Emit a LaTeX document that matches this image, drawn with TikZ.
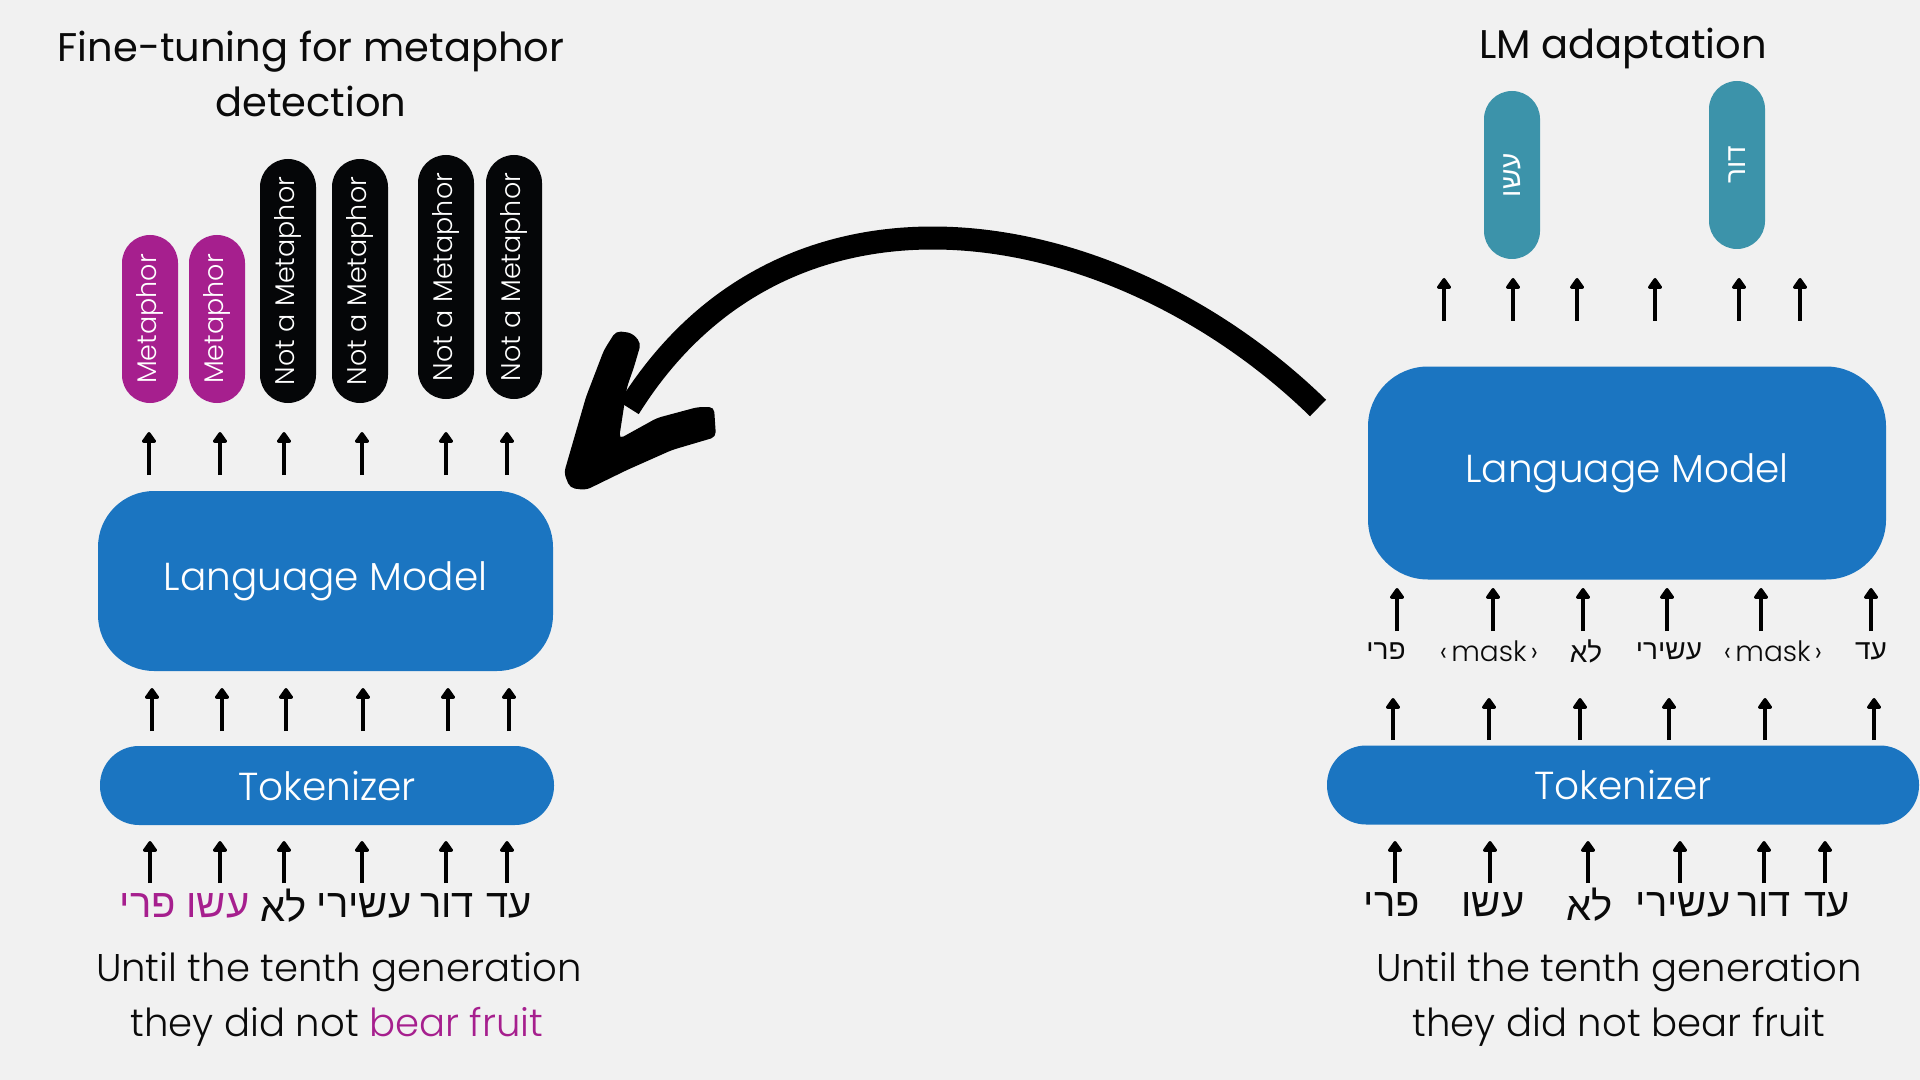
\documentclass[tikz,border=0pt]{standalone}
\usepackage{fontspec}
\setmainfont{Poppins}[UprightFont={* Light}]
\newfontfamily\popreg{Poppins}
\newfontfamily\heb[Script=Hebrew]{Liberation Sans}
\TeXXeTstate=1
\usetikzlibrary{arrows.meta}
\definecolor{bg}{RGB}{241,241,241}
\definecolor{lmblue}{RGB}{27,117,193}
\definecolor{mag}{RGB}{166,31,142}
\definecolor{tealpill}{RGB}{60,147,170}
\definecolor{pillblack}{RGB}{5,6,8}
\definecolor{ink}{RGB}{10,10,10}
\tikzset{
  bigtext/.style={font=\fontsize{19.3pt}{27.5pt}\selectfont, text=ink, inner sep=0pt, align=center},
  titletext/.style={font=\popreg\fontsize{20pt}{27.5pt}\selectfont, text=ink, inner sep=0pt, align=center},
  lmbox/.style={fill=lmblue, rounded corners=28pt, text=white, font=\fontsize{19.5pt}{24pt}\selectfont, inner sep=0pt},
  tokbox/.style={fill=lmblue, rounded corners=19.5pt, text=white, font=\fontsize{19.5pt}{24pt}\selectfont, inner sep=0pt, minimum height=39.5pt},
  pill/.style={rounded corners=14pt, minimum height=28pt, text=white, font=\fontsize{13.5pt}{16pt}\selectfont, inner sep=0pt, rotate=90},
  uparr/.style={line width=2pt, draw=black, -{Triangle[width=8pt,length=6pt,round]}},
  hebw/.style={font=\heb\fontsize{20pt}{24pt}\selectfont, text=ink, inner sep=0pt},
  tokw/.style={font=\fontsize{14pt}{16pt}\selectfont, text=ink, inner sep=0pt},
  hebtok/.style={font=\heb\fontsize{14pt}{16pt}\selectfont, text=ink, inner sep=0pt},
}
\begin{document}
\begin{tikzpicture}[x=0.5pt, y=-0.5pt]
\useasboundingbox (0,0) rectangle (1920,1080);
\fill[bg] (0,0) rectangle (1920,1080);

% ---------------- titles
\node[titletext] (ltitle) at (311,74) {Fine-tuning for metaphor\\detection};
\node[titletext] (rtitle) at (1623,48) {LM adaptation};

% ---------------- left side
\node[pill, fill=mag, minimum width=84pt] (p1) at (150,319) {Metaphor};
\node[pill, fill=mag, minimum width=84pt] (p2) at (217,319) {Metaphor};
\node[pill, fill=pillblack, minimum width=122pt] (p3) at (288,281) {Not a Metaphor};
\node[pill, fill=pillblack, minimum width=122pt] (p4) at (360,281) {Not a Metaphor};
\node[pill, fill=pillblack, minimum width=122pt] (p5) at (446,277) {Not a Metaphor};
\node[pill, fill=pillblack, minimum width=122pt] (p6) at (514,277) {Not a Metaphor};

\node[lmbox, minimum width=227.5pt, minimum height=90pt] (lmL) at (325.5,581) {Language Model};
\node[tokbox, minimum width=227pt] (tokL) at (327,785.5) {Tokenizer};

\node[hebw, text=mag] (lw1) at (148,906) {\beginR פרי\endR};
\node[hebw, text=mag] (lw2) at (218,906) {\beginR עשו\endR};
\node[hebw] (lw3) at (284,906) {\beginR לא\endR};
\node[hebw] (lw4) at (364,906) {\beginR עשירי\endR};
\node[hebw] (lw5) at (447,906) {\beginR דור\endR};
\node[hebw] (lw6) at (509,906) {\beginR עד\endR};

\node[bigtext] (le1) at (339,972) {Until the tenth generation};
\node[bigtext] (le2) at (337,1027) {they did not \textcolor{mag}{bear fruit}};

\foreach \i/\x in {1/149,2/220,3/284,4/362,5/446,6/507}{
  \coordinate (laS\i) at (\x,475); \coordinate (laE\i) at (\x,432);
  \draw[uparr] (laS\i) -- (laE\i);
}
\foreach \i/\x in {1/152,2/222,3/286,4/363,5/448,6/509}{
  \coordinate (lbS\i) at (\x,731); \coordinate (lbE\i) at (\x,688);
  \draw[uparr] (lbS\i) -- (lbE\i);
}
\foreach \i/\x in {1/150,2/220,3/284,4/362,5/446,6/507}{
  \coordinate (lcS\i) at (\x,883); \coordinate (lcE\i) at (\x,841);
  \draw[uparr] (lcS\i) -- (lcE\i);
}

% ---------------- right side
\node[pill, fill=tealpill, minimum width=84pt, font=\heb\fontsize{14pt}{16pt}\selectfont] (t1) at (1512,175) {\beginR עשו\endR};
\node[pill, fill=tealpill, minimum width=84pt, font=\heb\fontsize{14pt}{16pt}\selectfont] (t2) at (1737,165) {\beginR דור\endR};

\node[lmbox, rounded corners=30pt, minimum width=259pt, minimum height=106.5pt] (lmR) at (1627,473) {Language Model};
\node[tokbox, minimum width=296pt] (tokR) at (1623,785) {Tokenizer};

\node[hebtok] (rt1) at (1386,651) {\beginR פרי\endR};
\node[tokw] (rt2) at (1489,651) {‹\hspace{2pt}mask\hspace{2pt}›};
\node[hebtok] (rt3) at (1586,651) {\beginR לא\endR};
\node[hebtok] (rt4) at (1669,651) {\beginR עשירי\endR};
\node[tokw] (rt5) at (1773,651) {‹\hspace{2pt}mask\hspace{2pt}›};
\node[hebtok] (rt6) at (1871,651) {\beginR עד\endR};

\node[hebw] (rw1) at (1392,905) {\beginR פרי\endR};
\node[hebw] (rw2) at (1493,905) {\beginR עשו\endR};
\node[hebw] (rw3) at (1590,905) {\beginR לא\endR};
\node[hebw] (rw4) at (1683,905) {\beginR עשירי\endR};
\node[hebw] (rw5) at (1764,905) {\beginR דור\endR};
\node[hebw] (rw6) at (1827,905) {\beginR עד\endR};

\node[bigtext] (re1) at (1619,972) {Until the tenth generation};
\node[bigtext] (re2) at (1619,1027) {they did not bear fruit};

\foreach \i/\x in {1/1444,2/1513,3/1577,4/1655,5/1739,6/1800}{
  \coordinate (raS\i) at (\x,321); \coordinate (raE\i) at (\x,278);
  \draw[uparr] (raS\i) -- (raE\i);
}
\foreach \i/\x in {1/1397,2/1493,3/1583,4/1667,5/1761,6/1871}{
  \coordinate (rbS\i) at (\x,631); \coordinate (rbE\i) at (\x,588);
  \draw[uparr] (rbS\i) -- (rbE\i);
}
\foreach \i/\x in {1/1393,2/1489,3/1580,4/1669,5/1765,6/1874}{
  \coordinate (rcS\i) at (\x,740); \coordinate (rcE\i) at (\x,698);
  \draw[uparr] (rcS\i) -- (rcE\i);
}
\foreach \i/\x in {1/1395,2/1490,3/1588,4/1680,5/1764,6/1825}{
  \coordinate (rdS\i) at (\x,883); \coordinate (rdE\i) at (\x,841);
  \draw[uparr] (rdS\i) -- (rdE\i);
}

% ---------------- big curved arrow
\coordinate (bigS) at (1318,408);
\coordinate (bigE) at (629,408);
\draw[line width=11.5pt] (bigS) .. controls (1120,215) and (790,150) .. (bigE);
\fill[rounded corners=2.5pt] (616,331) -- (632,333) -- (641,343) -- (634,367) -- (627,387)
  -- (619,439) -- (657,418) -- (698,407) -- (714,407) -- (716,437) -- (672,450)
  -- (627,470) -- (586,490) -- (570,488) -- (564,473) -- (586,397) -- (604,350) -- cycle;
\end{tikzpicture}
\end{document}
